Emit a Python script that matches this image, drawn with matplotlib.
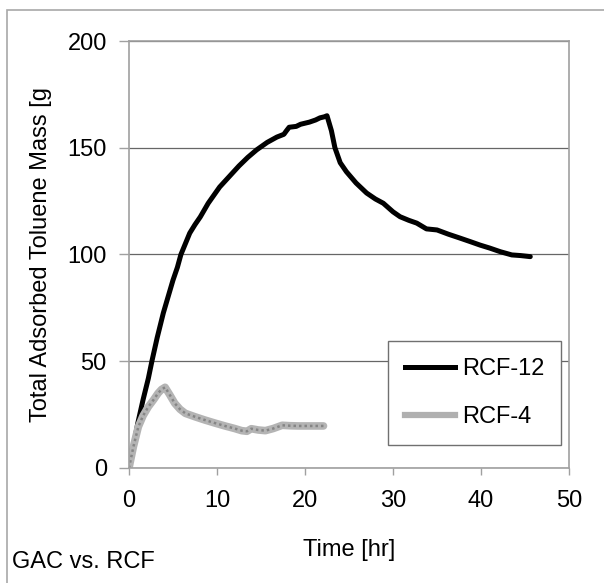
import matplotlib.pyplot as plt
from matplotlib.patches import Rectangle
from matplotlib.lines import Line2D
import numpy as np

plt.rcParams['font.family'] = ['Liberation Sans', 'DejaVu Sans']
plt.rcParams['font.size'] = 17

# RCF-12
t_rcf12 = [0.0, 0.5, 1.0, 1.6, 2.2, 2.6, 3.2, 3.9, 4.5, 5.0, 5.5, 5.9, 6.4, 6.9,
           7.5, 8.1, 9.0, 10.3, 11.5, 12.5, 13.5, 14.5, 15.7, 16.8, 17.6, 17.9,
           18.2, 19.0, 19.5, 20.5, 21.2, 21.7, 22.2, 22.5, 23.0, 23.4, 24.0,
           24.7, 25.8, 27.0, 28.0, 28.9, 30.0, 30.8, 31.8, 32.7, 33.8, 35.0,
           36.3, 37.6, 38.8, 39.9, 41.0, 42.2, 43.5, 44.5, 45.6]
v_rcf12 = [0.0, 10.0, 21.0, 32.0, 42.0, 50.0, 61.0, 72.6, 81.0, 88.0, 94.0, 100.0,
           105.0, 110.0, 114.0, 117.6, 124.0, 131.6, 137.0, 141.5, 145.5, 149.0,
           152.5, 155.0, 156.3, 158.0, 159.6, 160.0, 161.0, 162.0, 163.0, 164.0,
           164.5, 165.0, 158.0, 150.0, 143.0, 138.8, 133.5, 128.8, 126.0, 124.0,
           120.0, 117.7, 116.0, 114.7, 112.0, 111.5, 109.5, 107.7, 106.0, 104.4,
           103.0, 101.3, 99.8, 99.5, 99.0]

# RCF-4
t_rcf4 = [0.0, 0.5, 1.06, 1.6, 2.2, 2.8, 3.3, 3.7, 4.1, 4.6, 5.2, 5.8, 6.4, 7.5,
          8.6, 9.8, 10.9, 12.0, 12.8, 13.4, 13.9, 14.7, 15.5, 16.4, 17.4, 18.3,
          19.2, 20.5, 22.1]
v_rcf4 = [0.0, 10.0, 19.3, 24.5, 28.7, 32.0, 35.0, 36.8, 37.8, 34.5, 30.3, 27.5,
          25.6, 24.0, 22.5, 21.0, 19.7, 18.5, 17.5, 17.2, 18.4, 17.8, 17.5, 18.5,
          20.0, 19.8, 19.7, 19.7, 19.7]

fig = plt.figure(figsize=(6.04, 5.83), dpi=100)
ax = fig.add_axes([129/604, 1 - 468/583, 440/604, 427/583])

ax.plot(t_rcf12, v_rcf12, color='black', lw=3.6, solid_capstyle='round',
        solid_joinstyle='round')
# gray textured line: light base + dotted darker overlay
ax.plot(t_rcf4, v_rcf4, color='#b4b4b4', lw=5.5, solid_capstyle='round',
        solid_joinstyle='round')
ax.plot(t_rcf4, v_rcf4, color='#858585', lw=1.8, linestyle=(0, (1, 1.2)))

ax.set_xlim(0, 50)
ax.set_ylim(0, 200)
ax.set_xticks(np.arange(0, 51, 10))
ax.set_yticks(np.arange(0, 201, 50))
ax.yaxis.grid(True, color='#666666', lw=0.9)
ax.set_axisbelow(True)

for s in ax.spines.values():
    s.set_color('#a0a0a0')
    s.set_linewidth(1.2)
ax.tick_params(axis='x', direction='out', length=5, width=1, color='#a0a0a0', pad=11)
ax.tick_params(axis='y', direction='out', length=7, width=1, color='#a0a0a0', pad=9)

ax.set_xlabel('Time [hr]', labelpad=19)
ax.set_ylabel('Total Adsorbed Toluene Mass [g', labelpad=11)

h12 = Line2D([], [], color='black', lw=3.6)
h4 = Line2D([], [], color='#b0b0b0', lw=4.5)
leg = ax.legend([h12, h4], ['RCF-12', 'RCF-4'], loc='upper left',
                bbox_to_anchor=((388 - 129) / 440, (468 - 341) / 427),
                borderaxespad=0, fancybox=False, framealpha=1,
                edgecolor='#707070', handlelength=2.1, labelspacing=1.1,
                borderpad=0.72, handletextpad=0.3)
leg.get_frame().set_linewidth(1.0)

fig.text(12/604, 1 - 568/583, 'GAC vs. RCF', ha='left', va='baseline')

fig.patches.append(Rectangle((6.5/604, -0.05), 1.1, 1.05 - 9.5/583,
                             transform=fig.transFigure, fill=False,
                             edgecolor='#a8a8a8', lw=1.2, clip_on=False))

fig.savefig('out.png', dpi=100)
